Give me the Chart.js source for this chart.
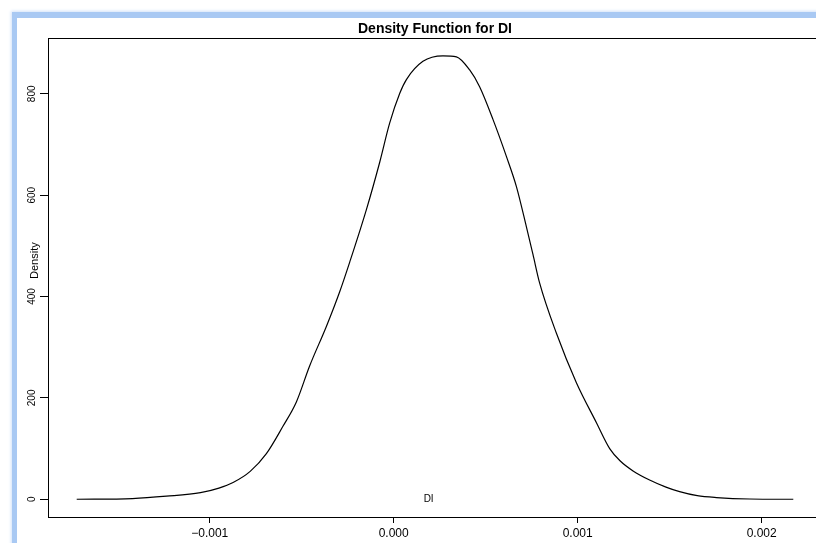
<!DOCTYPE html>
<html><head><meta charset="utf-8">
<script src="https://cdn.jsdelivr.net/npm/chart.js@4.4.1/dist/chart.umd.min.js"></script>
<style>
html,body{margin:0;padding:0;background:#fff;overflow:hidden;width:816px;height:543px;}
#frame{position:absolute;left:12px;top:12px;width:900px;height:700px;background:#a9c9f3;box-shadow:0 0 3px 1px #d3e3f9;}
#inner{position:absolute;left:17px;top:18px;width:900px;height:700px;background:#fff;}
#c{position:absolute;left:17px;top:18px;}
</style></head><body>
<div id="frame"></div><div id="inner"></div>
<canvas id="c" width="830" height="525"></canvas>
<script>
const chartTitle = 'Density Function for DI';
const yAxisLabel = 'Density';
const seriesLabel = 'DI';
const densityX = [-0.001723, -0.00142, -0.001235, -0.00105, -0.00095, -0.000873, -0.00078, -0.000692, -0.000602, -0.000529,
  -0.000457, -0.000366, -0.000293, -0.000239, -0.000148, -0.000076, -0.000022, 0.000033, 0.000069, 0.000159,
  0.000268, 0.000341, 0.000413, 0.000467, 0.00054, 0.000613, 0.000667, 0.000721, 0.000757, 0.000793,
  0.000884, 0.000993, 0.001102, 0.001174, 0.00123, 0.001301, 0.001391, 0.00148, 0.001554, 0.00165,
  0.001754, 0.001935, 0.002172];
const densityY = [0, 1.4, 6, 13, 22, 33, 55, 90, 144, 192,
  263, 341, 410, 468, 572, 665, 742, 801, 828, 864,
  875, 873, 847, 814, 749, 676, 617, 538, 483, 427,
  328, 230, 151, 100, 76, 56, 38, 24, 15, 7,
  3.3, 0.5, 0];
const xTicks = [-0.001, 0, 0.001, 0.002];
const yTicks = [0, 200, 400, 600, 800];
const xRange = [-0.001879, 0.002328];
const yRange = [-35, 910.5];
const labelAt = [0.00019, 0];

const FONT = '"Liberation Sans", Arial, Helvetica, sans-serif';

const extras = {
  id: 'extras',
  afterDraw(chart) {
    const {ctx, chartArea: a, scales} = chart;
    ctx.save();
    ctx.strokeStyle = '#000';
    ctx.lineWidth = 1;
    ctx.strokeRect(Math.round(a.left) + 0.5, Math.round(a.top) + 0.5, Math.round(a.right - a.left), Math.round(a.bottom - a.top));
    ctx.fillStyle = '#000';
    ctx.textAlign = 'center';
    ctx.textBaseline = 'middle';
    ctx.font = '10px ' + FONT;
    ctx.fillText(seriesLabel, scales.x.getPixelForValue(labelAt[0]), scales.y.getPixelForValue(labelAt[1]));
    ctx.translate(a.left - 13.3, a.top + (a.bottom - a.top) * 0.465);
    ctx.rotate(-Math.PI / 2);
    ctx.font = '11px ' + FONT;
    ctx.fillText(yAxisLabel, 0, 0);
    ctx.restore();
  }
};

new Chart(document.getElementById('c'), {
  type: 'scatter',
  data: {
    datasets: [{
      label: seriesLabel,
      data: densityX.map((x, i) => ({x: x, y: densityY[i]})),
      showLine: true,
      borderColor: '#000',
      borderWidth: 1.2,
      pointRadius: 0,
      cubicInterpolationMode: 'monotone',
      fill: false
    }]
  },
  options: {
    responsive: false,
    animation: false,
    layout: {padding: {left: 0, right: 25, top: 0, bottom: 0}},
    plugins: {
      legend: {display: false},
      tooltip: {enabled: false},
      title: {
        display: true, text: chartTitle, color: '#000', fullSize: false,
        font: {family: FONT, size: 14, weight: 'bold'},
        padding: {top: 3, bottom: 0}
      }
    },
    scales: {
      x: {
        type: 'linear', min: xRange[0], max: xRange[1],
        afterBuildTicks: s => { s.ticks = xTicks.map(v => ({value: v})); },
        afterFit: s => { s.height = 26; },
        grid: {display: true, drawOnChartArea: false, drawTicks: true, tickLength: 6, color: '#000'},
        border: {display: false},
        ticks: {
          color: '#000', font: {family: FONT, size: 12}, padding: 3,
          maxRotation: 0, minRotation: 0, autoSkip: false,
          callback: v => v.toFixed(3).replace('-', '\u2212')
        }
      },
      y: {
        type: 'linear', min: yRange[0], max: yRange[1],
        afterBuildTicks: s => { s.ticks = yTicks.map(v => ({value: v})); },
        afterFit: s => { s.width = 31; },
        grid: {display: true, drawOnChartArea: false, drawTicks: true, tickLength: 8, color: '#000'},
        border: {display: false},
        ticks: {
          color: '#000', font: {family: FONT, size: 10}, padding: -1,
          minRotation: 90, maxRotation: 90, crossAlign: 'center', autoSkip: false,
          callback: v => String(v)
        }
      }
    }
  },
  plugins: [extras]
});
</script>
</body></html>
